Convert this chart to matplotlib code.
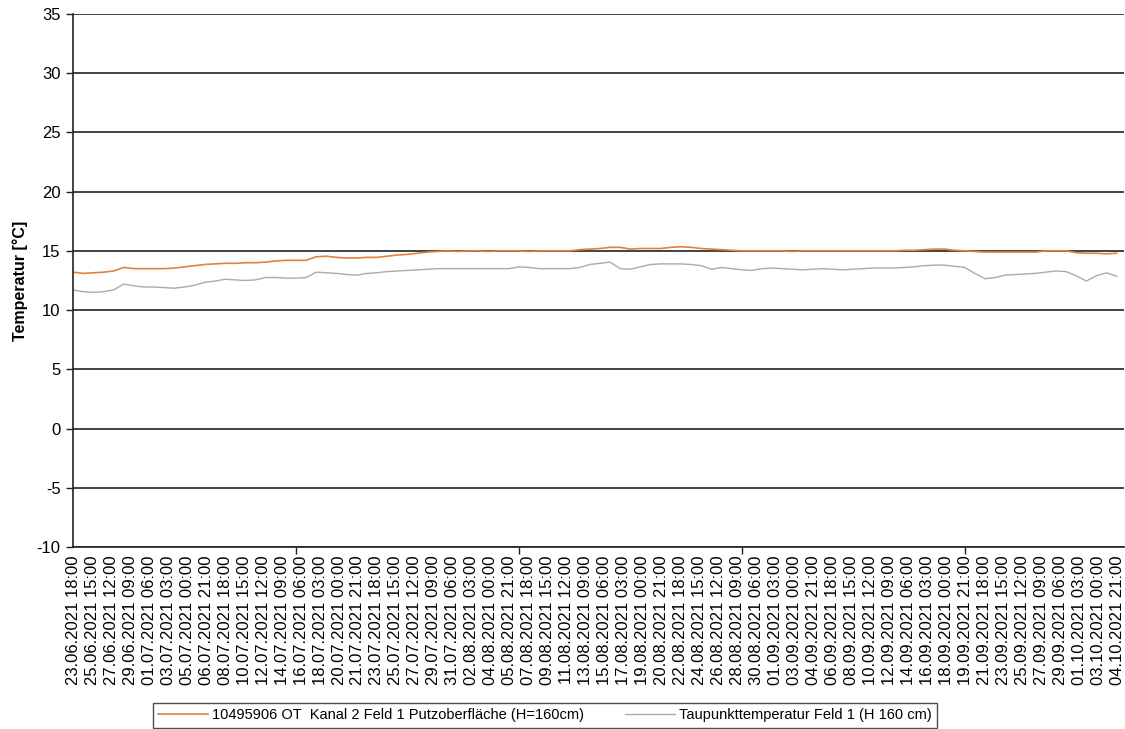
import pandas as pd
import matplotlib
matplotlib.use("Agg")
import matplotlib.pyplot as plt

plt.rcParams["font.family"] = ["Liberation Sans", "DejaVu Sans"]
plt.rcParams["axes.unicode_minus"] = False

# Messwerte, ein Wert pro Tag ab 23.06.2021 18:00
putz_oberflaeche = [
    13.2, 13.1, 13.15, 13.2, 13.3, 13.6, 13.5, 13.5, 13.5, 13.5,
    13.55, 13.65, 13.75, 13.85, 13.9, 13.95, 13.95, 14.0, 14.0, 14.05,
    14.15, 14.2, 14.2, 14.2, 14.5, 14.55, 14.45, 14.4, 14.4, 14.45,
    14.45, 14.55, 14.65, 14.7, 14.8, 14.9, 14.95, 15.0, 14.95, 15.0,
    15.0, 14.95, 15.0, 15.0, 15.0, 14.95, 15.0, 15.0, 15.0, 15.0,
    15.1, 15.15, 15.2, 15.3, 15.3, 15.15, 15.2, 15.2, 15.2, 15.3,
    15.35, 15.3, 15.2, 15.15, 15.1, 15.05, 15.0, 15.0, 15.0, 15.0,
    15.0, 14.95, 15.0, 15.0, 15.0, 15.0, 15.0, 15.0, 15.0, 15.0,
    15.0, 15.0, 15.05, 15.05, 15.1, 15.15, 15.15, 15.05, 15.0, 14.95,
    14.9, 14.9, 14.9, 14.9, 14.9, 14.9, 15.0, 15.0, 15.0, 14.85,
    14.8, 14.8, 14.75, 14.8,
]
taupunkt = [
    11.7, 11.55, 11.5, 11.55, 11.7, 12.2, 12.05, 11.95, 11.95, 11.9,
    11.85, 11.95, 12.1, 12.35, 12.45, 12.6, 12.55, 12.5, 12.55, 12.75,
    12.75, 12.7, 12.7, 12.75, 13.2, 13.15, 13.1, 13.0, 12.95, 13.1,
    13.15, 13.25, 13.3, 13.35, 13.4, 13.45, 13.5, 13.5, 13.5, 13.5,
    13.5, 13.5, 13.5, 13.5, 13.65, 13.6, 13.5, 13.5, 13.5, 13.5,
    13.6, 13.85, 13.95, 14.05, 13.5, 13.45, 13.65, 13.85, 13.9, 13.9,
    13.9, 13.85, 13.75, 13.45, 13.6, 13.5, 13.4, 13.35, 13.5, 13.55,
    13.5, 13.45, 13.4, 13.45, 13.5, 13.45, 13.4, 13.45, 13.5, 13.55,
    13.55, 13.55, 13.6, 13.65, 13.75, 13.8, 13.8, 13.7, 13.6, 13.1,
    12.65, 12.75, 12.95, 13.0, 13.05, 13.1, 13.2, 13.3, 13.25, 12.9,
    12.45, 12.9, 13.15, 12.85,
]
stunden = [24 * i for i in range(len(taupunkt))]

# Achsenbeschriftung alle 45 Stunden
start = pd.Timestamp("2021-06-23 18:00")
label_zeiten = pd.date_range(start, pd.Timestamp("2021-10-04 21:00"), freq="45h")
label_texte = [t.strftime("%d.%m.%Y %H:%M") for t in label_zeiten]
label_pos = [(t - start).total_seconds() / 3600 for t in label_zeiten]
teilstriche = [0, 528, 1056, 1584, 2112]

fig = plt.figure(figsize=(11.25, 7.29), dpi=100)
ax = fig.add_axes([0.0649, 0.2497, 0.9341, 0.7311])

l1, = ax.plot(stunden, putz_oberflaeche, color="#E2823F", lw=1.2,
              label="10495906 OT  Kanal 2 Feld 1 Putzoberfläche (H=160cm)")
l2, = ax.plot(stunden, taupunkt, color="#ABABAB", lw=1.0,
              label="Taupunkttemperatur Feld 1 (H 160 cm)")

ax.set_xlim(0, 2489)
ax.set_ylim(-10, 35)
ax.set_yticks(range(-10, 36, 5))
ax.yaxis.grid(True, color="#222222", lw=1.2)
ax.set_axisbelow(True)

ax.set_xticks(label_pos)
ax.set_xticklabels(label_texte, rotation=90, fontsize=12)
ax.tick_params(axis="x", length=0, pad=6)
ax.set_xticks(teilstriche, minor=True)
ax.tick_params(axis="x", which="minor", length=5, width=1, color="#222222")
ax.tick_params(axis="y", length=5, width=1, color="#222222", labelsize=12, pad=4)

for s in ["right", "top"]:
    ax.spines[s].set_visible(False)
ax.spines["left"].set_color("#222222")
ax.spines["bottom"].set_color("#222222")
ax.spines["left"].set_linewidth(1.2)
ax.spines["bottom"].set_linewidth(1.2)

ax.set_ylabel("Temperatur [°C]", fontsize=11.5, fontweight="bold", labelpad=6)

leg = fig.legend(handles=[l1, l2], loc="lower left", bbox_to_anchor=(0.135, 0.0),
                 ncol=2, fontsize=10.5, frameon=True, fancybox=False,
                 handlelength=3.4, borderpad=0.35, columnspacing=2.8,
                 handletextpad=0.3, borderaxespad=0.1)
leg.get_frame().set_edgecolor("#222222")
leg.get_frame().set_linewidth(1.0)

fig.savefig("out.png", dpi=100)
